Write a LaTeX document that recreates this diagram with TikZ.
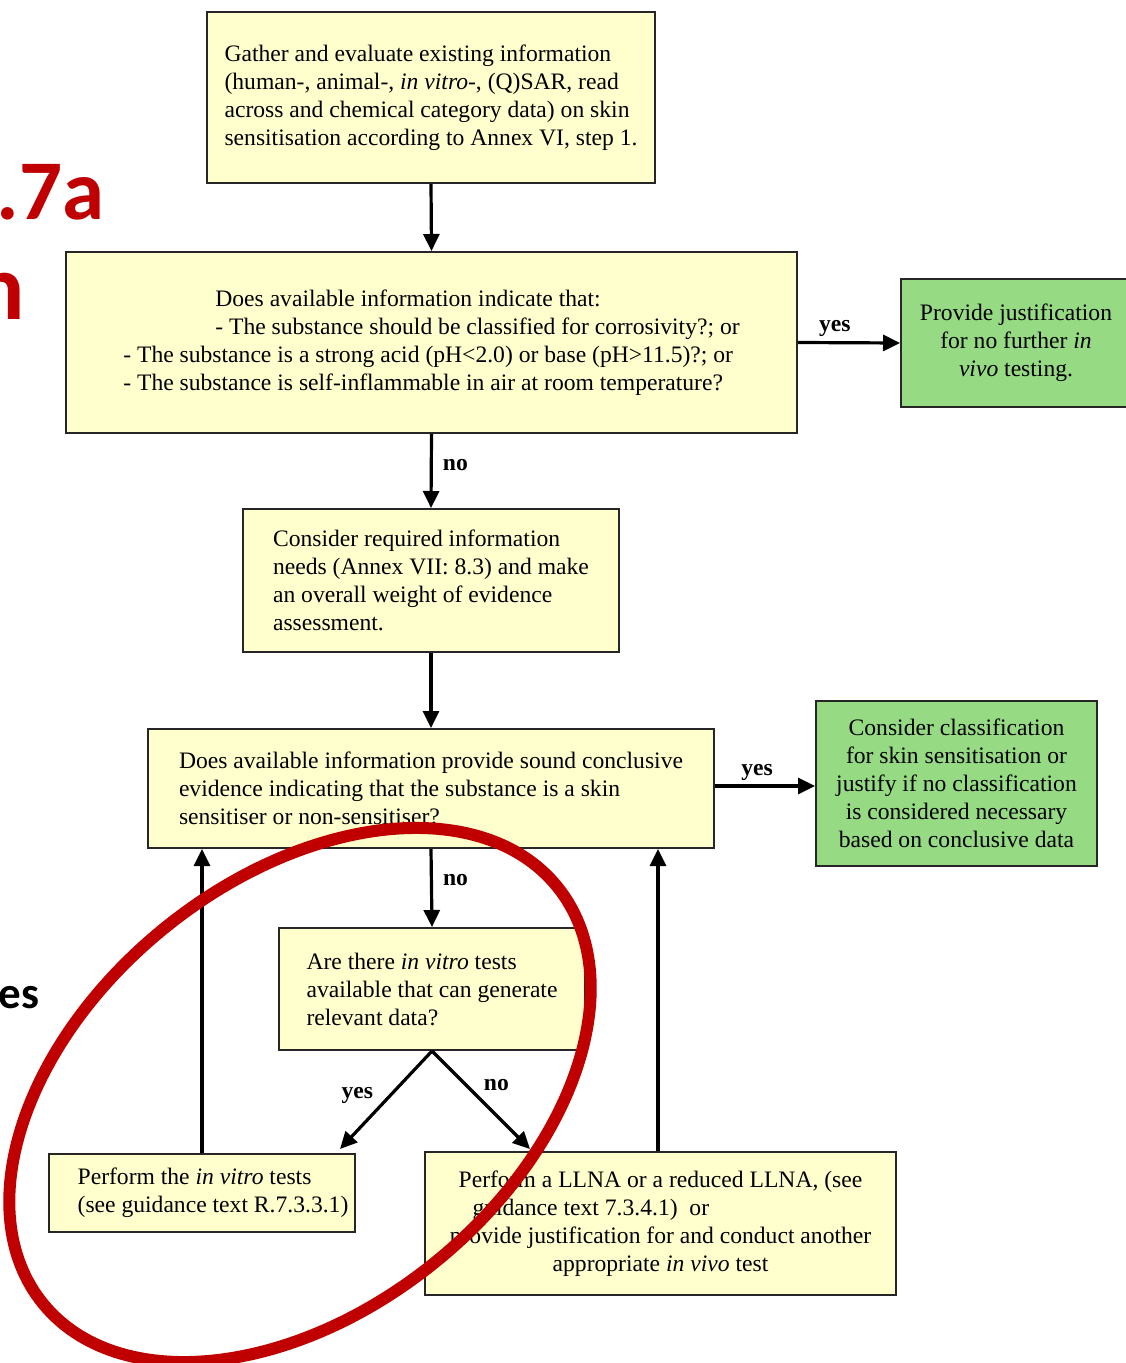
\documentclass[tikz,border=0pt]{standalone}
\usepackage{fontspec}
\setmainfont{Liberation Serif}
\newfontfamily\carl{Carlito}
\usetikzlibrary{arrows.meta}
\definecolor{boxyellow}{RGB}{255,255,206}
\definecolor{boxgreen}{RGB}{150,218,132}
\definecolor{ovalred}{RGB}{192,0,0}
\newcommand\bxfont{\fontsize{11.8}{14}\selectfont}
\begin{document}
\begin{tikzpicture}[x=0.5pt,y=-0.5pt,
  box/.style={draw=black!85, line width=1pt, fill=boxyellow, inner sep=0pt, font=\bxfont},
  gbox/.style={box, fill=boxgreen, align=center},
  arr/.style={line width=1.6pt, -{Triangle[length=8.5pt,width=8pt]}},
  lbl/.style={font=\bxfont\bfseries, inner sep=2pt}]
\useasboundingbox (0,0) rectangle (1125,1363);
\fill[white] (0,0) rectangle (1125,1363);

% title fragments
\node[anchor=base east, inner sep=0pt, text=ovalred, font=\carl\bfseries\fontsize{42.5}{45}\selectfont] (t1) at (105,220) {.7a};
\node[anchor=base east, inner sep=0pt, text=ovalred, font=\carl\bfseries\fontsize{47}{50}\selectfont] (t2) at (25,320) {n};
\node[anchor=base east, inner sep=0pt, text=black, font=\carl\bfseries\fontsize{22.5}{25}\selectfont] (t3) at (40,1008) {es};

% boxes
\node[box, minimum width=224pt, minimum height=85.5pt, align=left] (n1) at (431,97.5)
 {Gather and evaluate existing information\\(human-, animal-, \textit{in vitro}-, (Q)SAR, read\\across and chemical category data) on skin\\sensitisation according to Annex VI, step 1.};
\node[box, minimum width=365.5pt, minimum height=90.5pt, align=left] (n2) at (431.5,342.5)
 {\hspace*{46pt}Does available information indicate that:\\\hspace*{46pt}- The substance should be classified for corrosivity?; or\\- The substance is a strong acid (pH<2.0) or base (pH>11.5)?; or\\- The substance is self-inflammable in air at room temperature?};
\node[gbox, minimum width=115pt, minimum height=64pt] (g1) at (1016,343)
 {Provide justification\\for no further \textit{in}\\\textit{vivo} testing.};
\node[box, minimum width=188pt, minimum height=71.5pt, align=left] (n3) at (431,580.5)
 {Consider required information\\needs (Annex VII: 8.3) and make\\an overall weight of evidence\\assessment.};
\node[box, minimum width=283pt, minimum height=59.5pt, align=left] (n4) at (431,788.5)
 {Does available information provide sound conclusive\\evidence indicating that the substance is a skin\\sensitiser or non-sensitiser?};
\node[gbox, minimum width=140.5pt, minimum height=82.5pt] (g2) at (956.5,783.5)
 {Consider classification\\for skin sensitisation or\\justify if no classification\\is considered necessary\\based on conclusive data};
\node[box, minimum width=153pt, minimum height=61pt, align=left] (n5) at (432,989)
 {Are there \textit{in vitro} tests\\available that can generate\\relevant data?};
\node[box, minimum width=153pt, minimum height=39pt, align=left] (n6) at (202,1193)
 {\hspace*{11pt}Perform the \textit{in vitro} tests\\\hspace*{11pt}(see guidance text R.7.3.3.1)};
\node[box, minimum width=235.5pt, minimum height=71.5pt, align=center] (n7) at (660.5,1223.5)
 {Perform a LLNA or a reduced LLNA, (see\\\makebox[199pt][l]{\hspace{5.5pt}guidance text 7.3.4.1)\ \ or}\\provide justification for and conduct another\\appropriate \textit{in vivo} test};

% arrow end points
\coordinate (e1) at (340,1149);
\coordinate (e2) at (530,1149);

% connectors
\draw[arr] (n1.south) -- (n2.north);
\draw[arr] (n2.east) -- node[lbl, above, pos=0.36] {yes} (g1.west);
\draw[arr] (n2.south) -- node[lbl, right, pos=0.42, xshift=3pt] {no} (n3.north);
\draw[arr] (n3.south) -- (n4.north);
\draw[arr] (n4.east |- 0,786) -- node[lbl, above, pos=0.42] {yes} (g2.west |- 0,786);
\draw[arr] (n4.south) -- node[lbl, right, pos=0.4, xshift=3pt] {no} (n5.north);
\draw[arr] (n5.south) -- node[lbl, left, pos=0.45, xshift=-6pt] {yes} (e1);
\draw[arr] (n5.south) -- node[lbl, right, pos=0.35, xshift=6pt] {no} (e2);
\draw[arr] (n6.north) -- (n6.north |- n4.south);
\draw[arr] (n7.north -| 658,0) -- (658,0 |- n4.south);

% red oval
\draw[ovalred, line width=6pt, rotate around={39:(300,1095)}] (300,1095) ellipse [x radius=331, y radius=215];
\end{tikzpicture}
\end{document}
